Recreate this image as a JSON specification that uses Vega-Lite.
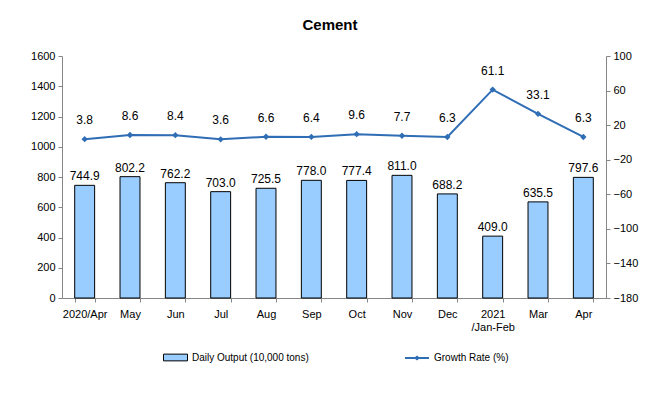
{
  "$schema": "https://vega.github.io/schema/vega-lite/v6.json",
  "autosize": "none",
  "width": 544,
  "height": 242,
  "padding": {"left": 62, "top": 56, "right": 54, "bottom": 98},
  "background": "white",
  "title": {"text": "Cement", "fontSize": 15, "fontWeight": "bold", "font": "Liberation Sans", "color": "black", "offset": 17, "anchor": "middle", "dx": -4},
  "config": {
    "view": {"stroke": null},
    "axis": {"labelFont": "Liberation Sans", "labelFontSize": 11, "labelColor": "black", "domainColor": "#868686", "tickColor": "#868686", "grid": false, "labelOverlap": false, "labelBound": false, "labelFlush": false},
    "legend": {"labelFont": "Liberation Sans", "labelFontSize": 10, "labelColor": "black"}
  },
  "data": {"values": [
    {"m": "2020/Apr", "out": 744.9, "g": 3.8},
    {"m": "May", "out": 802.2, "g": 8.6},
    {"m": "Jun", "out": 762.2, "g": 8.4},
    {"m": "Jul", "out": 703.0, "g": 3.6},
    {"m": "Aug", "out": 725.5, "g": 6.6},
    {"m": "Sep", "out": 778.0, "g": 6.4},
    {"m": "Oct", "out": 777.4, "g": 9.6},
    {"m": "Nov", "out": 811.0, "g": 7.7},
    {"m": "Dec", "out": 688.2, "g": 6.3},
    {"m": "2021|/Jan-Feb", "out": 409.0, "g": 61.1},
    {"m": "Mar", "out": 635.5, "g": 33.1},
    {"m": "Apr", "out": 797.6, "g": 6.3}
  ]},
  "encoding": {
    "x": {"field": "m", "type": "nominal", "sort": null, "title": null,
      "scale": {"paddingInner": 0.56, "paddingOuter": 0.28},
      "axis": {"labelAngle": 0, "tickBand": "extent", "tickSize": 4, "labelPadding": 6, "labelOverlap": false, "labelExpr": "split(datum.label, '|')", "labelLineHeight": 13}}
  },
  "layer": [
    {
      "encoding": {
        "y": {"field": "out", "type": "quantitative", "title": null, "scale": {"domain": [0, 1600], "nice": false},
          "axis": {"values": [0, 200, 400, 600, 800, 1000, 1200, 1400, 1600], "tickCount": 9, "format": "d", "tickSize": 4, "labelPadding": 3, "labelOverlap": false}}
      },
      "layer": [
        {"mark": {"type": "bar", "stroke": "black", "strokeWidth": 1},
         "encoding": {
           "fill": {"datum": "Daily Output (10,000 tons)", "type": "nominal",
             "scale": {"range": ["#99CCFF"]},
             "legend": {"title": null, "orient": "none", "legendX": 101, "legendY": 289, "padding": 0,
               "symbolType": "M-1,-0.28H1V0.28H-1Z", "symbolSize": 576, "symbolStrokeColor": "black", "symbolStrokeWidth": 1, "symbolFillColor": "#99CCFF", "labelOffset": 4}}
         }},
        {"mark": {"type": "text", "dy": -9, "font": "Liberation Sans", "fontSize": 12, "color": "black"},
         "encoding": {
           "text": {"field": "out", "type": "quantitative", "format": ".1f"}
         }}
      ]
    },
    {
      "encoding": {
        "y": {"field": "g", "type": "quantitative", "title": null, "scale": {"domain": [-180, 100], "nice": false},
          "axis": {"orient": "right", "values": [-180, -140, -100, -60, -20, 20, 60, 100], "tickCount": 8, "format": "d", "tickSize": 4, "labelPadding": 3, "labelOverlap": false}}
      },
      "layer": [
        {"mark": {"type": "line", "strokeWidth": 2},
         "encoding": {
           "stroke": {"datum": "Growth Rate (%)", "type": "nominal",
             "scale": {"range": ["#2F6DB5"]},
             "legend": {"title": null, "orient": "none", "legendX": 342, "legendY": 289, "padding": 0,
               "symbolType": "M-1,0H1M-0.12,0L0,-0.1L0.12,0L0,0.1Z", "symbolSize": 576, "symbolStrokeWidth": 2, "labelOffset": 4}}
         }},
        {"mark": {"type": "point", "shape": "diamond", "filled": true, "size": 40, "color": "#2F6DB5", "opacity": 1}},
        {"mark": {"type": "text", "dy": -19, "font": "Liberation Sans", "fontSize": 12, "color": "black"},
         "encoding": {
           "text": {"field": "g", "type": "quantitative", "format": ".1f"}
         }}
      ]
    }
  ],
  "resolve": {"scale": {"y": "independent"}}
}
